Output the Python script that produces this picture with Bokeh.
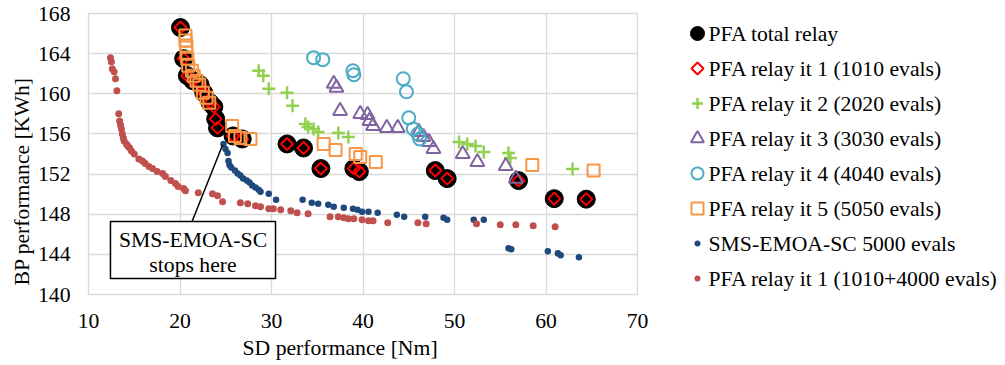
import numpy as np
from bokeh.plotting import figure
from bokeh.layouts import row
from bokeh.models import Range1d, FixedTicker, Title
from bokeh.embed import file_html
from bokeh.resources import INLINE
from bokeh.core.properties import value

# ---------------- data ----------------
x_ticks = [10, 20, 30, 40, 50, 60, 70]
y_ticks = [140, 144, 148, 152, 156, 160, 164, 168]

it1_x = [20.05, 20.4, 20.8, 21.4, 22.2, 22.6, 23.3, 23.7, 23.9, 24.1, 25.8, 26.8,
         31.7, 33.5, 35.4, 39.0, 39.6, 47.9, 49.2, 57.0, 60.9, 64.4]
it1_y = [166.6, 163.5, 161.8, 161.3, 160.9, 160.1, 159.1, 158.7, 157.5, 156.6, 155.8, 155.5,
         155.0, 154.6, 152.55, 152.55, 152.25, 152.35, 151.55, 151.35, 149.55, 149.5]

total_x = list(it1_x)
total_y = list(it1_y)

it2_x = [28.6, 29.1, 29.7, 31.7, 32.3, 33.7, 34.0, 34.6, 35.1, 37.3, 38.4,
         50.5, 51.4, 52.3, 53.2, 55.9, 56.1, 62.9]
it2_y = [162.3, 161.8, 160.5, 160.1, 158.8, 157.0, 156.7, 156.5, 156.2, 156.1, 155.7,
         155.2, 155.0, 154.8, 154.2, 154.1, 153.6, 152.5]

it3_x = [36.8, 37.1, 37.5, 39.7, 40.5, 40.7, 41.1, 42.6, 43.8, 46.1, 46.6, 47.2, 47.7,
         50.9, 52.5, 55.6, 56.7]
it3_y = [161.0, 160.6, 158.3, 158.0, 157.9, 157.3, 156.8, 156.6, 156.6, 156.2, 155.7, 155.2, 154.5,
         154.0, 153.2, 152.8, 151.55]

it4_x = [34.6, 35.6, 38.9, 39.0, 44.4, 44.75, 45.0, 45.5, 46.0, 46.2]
it4_y = [163.6, 163.4, 162.3, 161.9, 161.5, 160.2, 157.6, 156.5, 156.0, 155.5]

it5_x = [20.6, 20.6, 20.7, 20.7, 20.8, 20.9, 21.3, 21.5, 21.8, 22.1, 22.5, 22.9, 23.2,
         25.7, 26.0, 26.6, 27.7, 35.7, 37.0, 39.2, 39.7, 41.4, 58.5, 65.2]
it5_y = [165.8, 165.3, 164.8, 164.1, 163.5, 162.8, 162.3, 161.8, 161.3, 160.9, 160.1, 159.6, 159.1,
         156.8, 155.8, 155.6, 155.5, 155.0, 154.4, 154.0, 153.7, 153.2, 152.9, 152.35]

sms_x = [24.75, 24.97, 25.2, 25.3, 25.4, 25.6, 26.0, 26.3, 26.6, 26.9, 27.3, 27.6, 27.9, 28.25,
         28.6, 28.8, 29.7, 30.5, 33.4, 34.4, 35.1, 36.2, 36.8, 37.9, 38.9, 39.4, 39.9, 40.6,
         41.6, 43.7, 44.5, 46.8, 48.8, 49.2, 52.1, 53.2, 55.9, 56.2, 60.2, 61.3, 61.6, 63.6]
sms_y = [155.0, 154.5, 154.1, 153.3, 152.9, 152.65, 152.35, 152.05, 151.85, 151.55, 151.35,
         151.15, 150.85, 150.65, 150.45, 150.25, 150.05, 149.45, 149.45, 149.15, 149.05, 148.95,
         148.75, 148.65, 148.55, 148.45, 148.25, 148.25, 148.15, 147.95, 147.75, 147.75, 147.65,
         147.45, 147.45, 147.45, 144.6, 144.5, 144.3, 144.1, 143.9, 143.7]

relay_x = [12.4, 12.5, 12.6, 12.8, 12.95, 13.1, 13.3, 13.4, 13.5, 13.6, 13.7, 13.8, 13.9, 14.15,
           14.3, 14.5, 14.7, 15.0, 15.5, 15.9, 16.2, 16.6, 17.0, 17.5, 18.1, 18.4, 19.0, 19.5,
           19.8, 20.4, 20.6, 22.0, 23.55, 24.1, 24.65, 26.6, 27.4, 28.25, 28.8, 29.7, 30.2, 31.0,
           32.1, 32.8, 34.0, 36.4, 37.3, 37.9, 38.4, 39.0, 39.9, 40.6, 41.1, 42.7, 46.0, 46.9,
           52.4, 55.0, 56.7, 58.6, 61.0]
relay_y = [163.6, 163.2, 162.5, 162.2, 161.5, 160.3, 158.0, 157.3, 156.9, 156.5, 156.0, 155.6,
           155.3, 155.0, 154.8, 154.6, 154.3, 154.0, 153.5, 153.3, 153.05, 152.75, 152.55, 152.25,
           152.05, 151.75, 151.35, 151.05, 150.75, 150.55, 150.35, 150.15, 150.05, 149.85, 149.25,
           149.15, 149.05, 148.85, 148.75, 148.55, 148.55, 148.45, 148.35, 148.15, 148.05, 147.75,
           147.75, 147.65, 147.55, 147.55, 147.45, 147.35, 147.35, 147.15, 147.15, 147.05, 147.05,
           146.95, 146.95, 146.85, 146.75]

labels = ["PFA total relay", "PFA relay it 1 (1010 evals)", "PFA relay it 2 (2020 evals)",
          "PFA relay it 3 (3030 evals)", "PFA relay it 4 (4040 evals)", "PFA relay it 5 (5050 evals)",
          "SMS-EMOA-SC 5000 evals", "PFA relay it 1 (1010+4000 evals)"]

# ---------------- styles ----------------
FONT = "Liberation Serif"
FS = "21.7px"
GRID = "#D9D9D9"
TOP, BOTTOM = 13, 71

series = [
    dict(x=total_x, y=total_y, marker="circle", size=18, lsize=14, angle=0.0,
         fill_color="black", line_color="black", line_width=1),
    dict(x=it1_x, y=it1_y, marker="square", size=8.5, lsize=8.5, angle=np.pi / 4,
         fill_color=None, line_color="#FF0000", line_width=2),
    dict(x=it2_x, y=it2_y, marker="cross", size=13, lsize=11, angle=0.0,
         fill_color=None, line_color="#92D050", line_width=2.5),
    dict(x=it3_x, y=it3_y, marker="triangle", size=14, lsize=13, angle=0.0,
         fill_color=None, line_color="#8064A2", line_width=2),
    dict(x=it4_x, y=it4_y, marker="circle", size=13, lsize=12, angle=0.0,
         fill_color=None, line_color="#4BACC6", line_width=2),
    dict(x=it5_x, y=it5_y, marker="square", size=12, lsize=12, angle=0.0,
         fill_color=None, line_color="#F79646", line_width=2),
    dict(x=sms_x, y=sms_y, marker="circle", size=6.5, lsize=6, angle=0.0,
         fill_color="#1F497D", line_color=None, line_width=1),
    dict(x=relay_x, y=relay_y, marker="circle", size=7, lsize=6, angle=0.0,
         fill_color="#C0504D", line_color=None, line_width=1),
]

# ---------------- main plot ----------------
p = figure(width=655, height=365, x_range=Range1d(10, 70), y_range=Range1d(140, 168),
           output_backend="svg", toolbar_location=None,
           min_border_left=88, min_border_right=18, min_border_top=TOP, min_border_bottom=BOTTOM)
p.background_fill_color = "white"
p.border_fill_color = "white"
p.outline_line_color = GRID
p.outline_line_width = 1.3

p.xaxis.ticker = FixedTicker(ticks=x_ticks)
p.yaxis.ticker = FixedTicker(ticks=y_ticks)
for ax in (p.xaxis[0], p.yaxis[0]):
    ax.axis_line_color = None
    ax.major_tick_line_color = None
    ax.minor_tick_line_color = None
    ax.major_tick_out = 0
    ax.major_tick_in = 0
    ax.major_label_text_font = FONT
    ax.major_label_text_font_size = FS
    ax.major_label_text_color = "black"
p.xaxis.major_label_standoff = 19
p.yaxis.major_label_standoff = 18

xt = Title(text="SD performance [Nm]", align="left", offset=154, standoff=6,
           text_font=FONT, text_font_size=FS, text_font_style="normal", text_color="black")
p.add_layout(xt, "below")
yt = Title(text="BP performance [KWh]", align="left", offset=9, standoff=2,
           text_font=FONT, text_font_size=FS, text_font_style="normal", text_color="black")
p.add_layout(yt, "left")

for g in (p.xgrid[0], p.ygrid[0]):
    g.grid_line_color = GRID
    g.grid_line_width = 1.3

for s in series:
    p.scatter(s["x"], s["y"], marker=s["marker"], size=s["size"], angle=s["angle"],
              fill_color=s["fill_color"], line_color=s["line_color"], line_width=s["line_width"])

# ---------------- annotation ----------------
box_left, box_right, box_top, box_bottom = 12.4, 30.44, 147.27, 141.6
box_cx = (box_left + box_right) / 2
p.segment(x0=[box_cx - 0.1], y0=[box_top], x1=[sms_x[0] - 0.1], y1=[sms_y[0] - 0.1],
          line_color="black", line_width=1.5)
p.quad(left=[box_left], right=[box_right], top=[box_top], bottom=[box_bottom],
       fill_color="white", line_color="black", line_width=1.5)
p.text(x=[box_cx, box_cx], y=[145.4, 142.9], text=["SMS-EMOA-SC", "stops here"],
       text_align="center", text_baseline="middle", text_font=value(FONT),
       text_font_size=FS, text_color="black")

# ---------------- legend panel ----------------
# y range in canvas pixels (frame spans TOP .. 365-BOTTOM)
lg = figure(width=350, height=365, x_range=Range1d(0, 350), y_range=Range1d(365 - BOTTOM, TOP),
            x_axis_type=None, y_axis_type=None, output_backend="svg", toolbar_location=None,
            min_border_left=0, min_border_right=0, min_border_top=TOP, min_border_bottom=BOTTOM)
lg.outline_line_color = None
lg.grid.visible = False
row0, row_step, mark_x, text_x = 33, 35, 42, 53
for i, s in enumerate(series):
    yy = row0 + row_step * i
    lg.scatter([mark_x], [yy], marker=s["marker"], size=s["lsize"], angle=s["angle"],
               fill_color=s["fill_color"], line_color=s["line_color"], line_width=s["line_width"])
lg.text(x=[text_x] * len(labels), y=[row0 + row_step * i + 0.5 for i in range(len(labels))],
        text=labels, text_align="left", text_baseline="middle", text_font=value(FONT),
        text_font_size=FS, text_color="black")

layout = row(p, lg)
open("out.html", "w").write(file_html(layout, INLINE))
